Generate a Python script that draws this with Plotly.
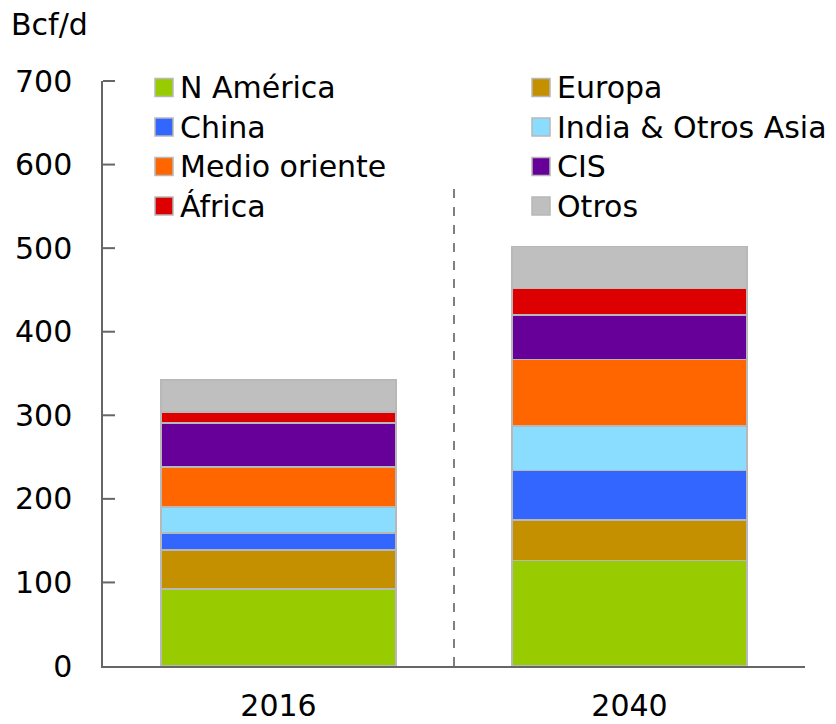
import plotly.graph_objects as go

years = ["2016", "2040"]
series_names = ["N América", "Europa", "China", "India & Otros Asia",
                "Medio oriente", "CIS", "África", "Otros"]
n_america = [92, 126]
europa = [47, 49]
china = [20, 59]
india_asia = [31, 53]
medio_oriente = [48, 80]
cis = [53, 53]
africa = [13, 32]
otros = [38, 50]
series_values = [n_america, europa, china, india_asia, medio_oriente, cis, africa, otros]
colors = ["#99CC00", "#C49000", "#3366FF", "#8ADDFF", "#FF6600", "#660099", "#DD0000", "#BFBFBF"]
y_ticks = [0, 100, 200, 300, 400, 500, 600, 700]
Y_MAX = 700

OFF = 8  # page body margin
W, H = 836 - 2 * OFF + 8, 724 - 2 * OFF + 8
# plot area in reference (window) pixels
AX_L, AX_R, AX_T, AX_B = 103, 805, 81, 666
L = AX_L - OFF
T = AX_T - OFF
R = W - (AX_R - OFF)
B = H - (AX_B - OFF)
PW, PH = W - L - R, H - T - B
FONT = "DejaVu Sans"
FS = 30
AXC = "#666666"

def px_x(x):
    return (x - OFF - L) / PW

def px_y(y):
    return (H - B - (y - OFF)) / PH

fig = go.Figure()
for name, vals, col in zip(series_names, series_values, colors):
    fig.add_trace(go.Bar(
        x=years, y=vals, name=name,
        marker=dict(color=col, line=dict(color="#B8B8B8", width=1.5)),
        width=0.67, showlegend=False,
    ))

shapes = []
annotations = []

# inside tick marks on the value axis (paper coords from the axis range)
for t in y_ticks[1:]:
    yp = t / Y_MAX
    shapes.append(dict(type="line", xref="paper", yref="paper",
                       x0=0, x1=12 / PW, y0=yp, y1=yp,
                       layer="above", line=dict(color=AXC, width=2)))

# manual legend: two columns
col_x = [155, 532]
row_y = [87.5, 127, 166.5, 206]
for i, (name, col) in enumerate(zip(series_names, colors)):
    r, c = divmod(i, 2)
    x0 = col_x[c]
    yc = row_y[r]
    shapes.append(dict(type="rect", xref="paper", yref="paper",
                       x0=px_x(x0), x1=px_x(x0 + 18),
                       y0=px_y(yc + 9), y1=px_y(yc - 9),
                       fillcolor=col, line=dict(color="#B8B8B8", width=1.5)))
    annotations.append(dict(xref="paper", yref="paper", x=px_x(x0 + 23), y=px_y(yc),
                            text=name, showarrow=False, xanchor="left", yanchor="middle",
                            font=dict(family=FONT, size=FS, color="#000000")))

# dashed separator
shapes.append(dict(type="line", xref="paper", yref="y", x0=0.5, x1=0.5, y0=0, y1=580,
                   line=dict(color="#555555", width=1.5, dash="dash")))

annotations.append(dict(xref="paper", yref="paper", x=px_x(9), y=px_y(25),
                        text="Bcf/d", showarrow=False, xanchor="left", yanchor="middle",
                        font=dict(family=FONT, size=FS, color="#000000")))

fig.update_layout(
    width=W, height=H,
    margin=dict(l=L, r=R, t=T, b=B, pad=0, autoexpand=False),
    barmode="stack",
    plot_bgcolor="white", paper_bgcolor="white",
    font=dict(family=FONT, size=FS, color="#000000"),
    shapes=shapes, annotations=annotations,
    showlegend=False,
    bargap=0.33,
)
fig.update_yaxes(range=[0, Y_MAX], tickvals=y_ticks, showgrid=False, zeroline=False,
                 showline=True, linecolor=AXC, linewidth=1.5,
                 ticks="", ticklabelstandoff=23, automargin=False,
                 tickfont=dict(family=FONT, size=FS))
fig.update_xaxes(range=[-0.5, 1.5], showgrid=False, zeroline=False,
                 showline=True, linecolor=AXC, linewidth=2,
                 ticks="", ticklabelstandoff=12, automargin=False,
                 tickfont=dict(family=FONT, size=FS))

fig.write_html("out.html")
